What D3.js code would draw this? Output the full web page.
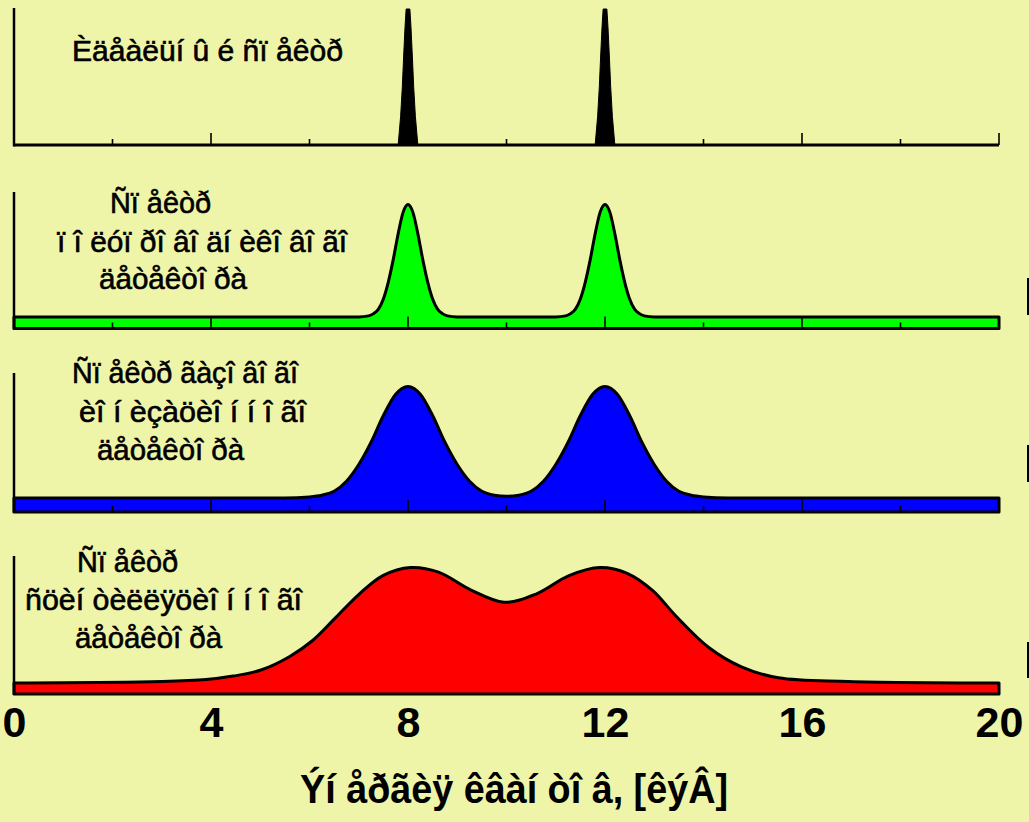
<!DOCTYPE html>
<html>
<head>
<meta charset="utf-8">
<script src="https://cdn.jsdelivr.net/npm/d3@7"></script>
<style>
  html, body { margin: 0; padding: 0; background: #eef5a9; }
  svg { display: block; }
</style>
</head>
<body>
<svg id="chart" width="1029" height="822"></svg>
<script>
// ---------------- DATA ----------------
const xTickLabels = [0, 4, 8, 12, 16, 20];
const tickMarks = [2, 4, 6, 8, 10, 12, 14, 16, 18, 20];
const xAxisTitle = "Ýí åðãèÿ êâàí òî â, [êýÂ]";

// Ideal spectrum (relative intensity, %)
const idealX = [0, 7.80, 7.85, 7.885, 7.91, 7.94, 7.962, 8.038, 8.06, 8.09, 8.115, 8.15, 8.20,
                11.80, 11.85, 11.885, 11.91, 11.94, 11.962, 12.038, 12.06, 12.09, 12.115, 12.15, 12.20, 20];
const idealY = [0, 0, 21, 43, 64, 87, 100, 100, 87, 64, 43, 21, 0,
                0, 21, 43, 64, 87, 100, 100, 87, 64, 43, 21, 0, 0];

// Semiconductor detector
const semiX = [0, 7.0, 7.2, 7.3, 7.4, 7.5, 7.6, 7.7, 7.8, 7.9, 8.0, 8.1, 8.2, 8.3, 8.4, 8.5, 8.6, 8.7, 8.8, 9.0,
               11.0, 11.2, 11.3, 11.4, 11.5, 11.6, 11.7, 11.8, 11.9, 12.0, 12.1, 12.2, 12.3, 12.4, 12.5, 12.6, 12.7, 12.8, 13.0, 20];
const semiY = [0, 0, 1, 3, 7, 16, 31, 51, 74, 93, 100, 93, 74, 51, 31, 16, 7, 3, 1, 0,
               0, 1, 3, 7, 16, 31, 51, 74, 93, 100, 93, 74, 51, 31, 16, 7, 3, 1, 0, 0];

// Gas ionization detector
const gasX = [0, 5.5, 6.0, 6.25, 6.5, 6.75, 7.0, 7.25, 7.5, 7.75, 8.0, 8.25, 8.5, 8.75, 9.0, 9.25, 9.5, 9.75,
              10.0, 10.25, 10.5, 10.75, 11.0, 11.25, 11.5, 11.75, 12.0, 12.25, 12.5, 12.75, 13.0, 13.25, 13.5, 13.75, 14.0, 14.5, 20];
const gasY = [0, 0, 1, 2.5, 6, 15, 30, 50, 74, 93, 100, 93, 74, 50, 30, 15, 6, 2.5,
              1.5, 2.5, 6, 15, 30, 50, 74, 93, 100, 93, 74, 50, 30, 15, 6, 2.5, 1, 0, 0];

// Scintillation detector
const scintX = [0, 3.0, 3.9, 4.45, 5.0, 5.6, 6.07, 6.54, 7.01, 7.49, 8.05, 8.62, 9.28, 9.95,
                10.6, 11.27, 11.9, 12.45, 12.97, 13.44, 14.1, 14.77, 15.52, 16.94, 20];
const scintY = [0, 1.3, 3, 6, 11, 23, 37, 57, 77, 93, 100, 96, 80.5, 70,
                77, 93, 100, 95, 80, 58, 31, 14, 4.5, 1.3, 0];

const panelLabels = [
  ["Èäåàëüí û é ñï åêòð"],
  ["Ñï åêòð", "ï î ëóï ðî âî äí èêî âî ãî", "äåòåêòî ðà"],
  ["Ñï åêòð ãàçî âî ãî", "èî í èçàöèî í í î ãî", "äåòåêòî ðà"],
  ["Ñï åêòð", "ñöèí òèëëÿöèî í í î ãî", "äåòåêòî ðà"]
];

// ---------------- LAYOUT ----------------
const W = 1029, H = 822;
const bg = "#eef5a9";
const svg = d3.select("#chart");
svg.append("rect").attr("width", W).attr("height", H).attr("fill", bg);

const x = d3.scaleLinear().domain([0, 20]).range([14, 999]);

const panels = [
  { xs: idealX, ys: idealY, fill: "#000000", base: 145, peak: 9, axisTop: 8, band: null, ticks: true, curve: d3.curveLinear,
    text: [[72, 60.5, 271]] },
  { xs: semiX, ys: semiY, fill: "#00ff00", base: 317, peak: 204.5, axisTop: 192, band: 328.5, ticks: true, curve: d3.curveMonotoneX,
    text: [[110, 212.5, 101], [57, 251.5, 290], [99, 289, 148]] },
  { xs: gasX, ys: gasY, fill: "#0000ff", base: 498, peak: 386.5, axisTop: 373, band: 512, ticks: true, curve: d3.curveMonotoneX,
    text: [[72, 383.3, 226], [79, 421.7, 227], [97, 460, 147]] },
  { xs: scintX, ys: scintY, fill: "#ff0000", base: 683, peak: 567.5, axisTop: 556, band: 694, ticks: false, curve: d3.curveCatmullRom.alpha(0.5),
    text: [[77, 571.7, 101], [25, 610, 277], [75, 648.3, 147]] }
];

panels.forEach((p, i) => {
  const g = svg.append("g");
  const y = d3.scaleLinear().domain([0, 100]).range([p.base, p.peak]);
  const pts = p.xs.map((v, k) => [v, p.ys[k]]);

  if (p.band === null) {
    const area = d3.area().x(d => x(d[0])).y0(y(0)).y1(d => y(d[1])).curve(p.curve);
    g.append("path").attr("d", area(pts)).attr("fill", p.fill)
      .attr("stroke", p.fill).attr("stroke-width", 1);
    g.append("line").attr("x1", x(0)).attr("x2", x(20)).attr("y1", y(0)).attr("y2", y(0))
      .attr("stroke", "#000").attr("stroke-width", 3);
  } else {
    const area = d3.area().x(d => x(d[0])).y0(p.band).y1(d => y(d[1])).curve(p.curve);
    g.append("path").attr("d", area(pts)).attr("fill", p.fill)
      .attr("stroke", "#000").attr("stroke-width", 3).attr("stroke-linejoin", "round");
  }

  if (p.ticks) {
    const bottom = p.band === null ? y(0) : p.band;
    g.selectAll("line.tk").data(tickMarks).enter().append("line")
      .attr("x1", d => x(d)).attr("x2", d => x(d))
      .attr("y1", bottom)
      .attr("y2", d => bottom - (d % 4 === 0 ? 12 : 6))
      .attr("stroke", "#000").attr("stroke-width", 1.6);
  }

  const bottomY = p.band === null ? y(0) + 1.5 : p.band + 1;
  g.append("line").attr("x1", x(0)).attr("x2", x(0)).attr("y1", p.axisTop).attr("y2", bottomY)
    .attr("stroke", "#000").attr("stroke-width", 2.5);

  panelLabels[i].forEach((t, j) => {
    const pos = p.text[j];
    g.append("text").attr("x", pos[0]).attr("y", pos[1])
      .attr("textLength", pos[2]).attr("lengthAdjust", "spacingAndGlyphs")
      .attr("font-family", "'Liberation Sans', Arial, sans-serif")
      .attr("font-size", 29).attr("fill", "#000")
      .attr("stroke", "#000").attr("stroke-width", 0.6)
      .text(t);
  });
});

// small marks at right edge
[[278, 315], [445, 482], [642, 678]].forEach(r => {
  svg.append("rect").attr("x", 1027).attr("y", r[0]).attr("width", 2).attr("height", r[1] - r[0]).attr("fill", "#000");
});

// x axis tick labels
const axis = d3.axisBottom(x).tickValues(xTickLabels).tickSize(0).tickPadding(0).tickFormat(d3.format("d"));
const ag = svg.append("g").attr("transform", "translate(0,706)").call(axis);
ag.select(".domain").remove();
ag.selectAll("text")
  .attr("font-family", "'Liberation Sans', Arial, sans-serif")
  .attr("font-size", 43).attr("font-weight", "bold").attr("fill", "#000")
  .attr("dy", "0.716em");

// x axis title
svg.append("text").attr("x", 300).attr("y", 803)
  .attr("textLength", 428).attr("lengthAdjust", "spacingAndGlyphs")
  .attr("font-family", "'Liberation Sans', Arial, sans-serif")
  .attr("font-size", 41).attr("font-weight", "bold").attr("fill", "#000")
  .text(xAxisTitle);
</script>
</body>
</html>
